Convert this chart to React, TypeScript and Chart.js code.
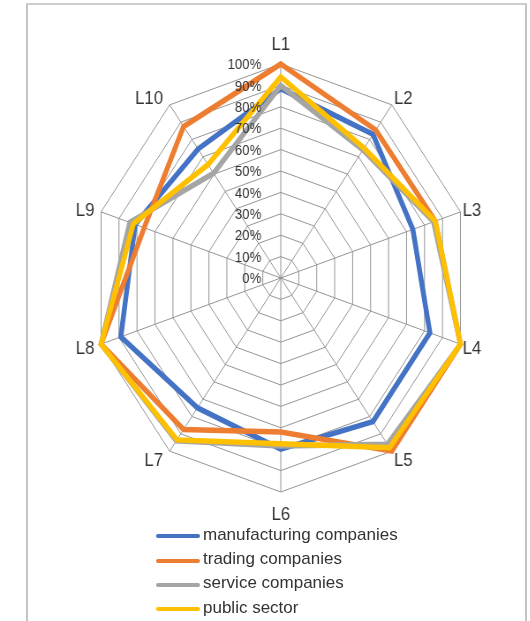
import React, { useEffect, useRef } from 'react';
import { Chart, registerables } from 'chart.js';

Chart.register(...registerables);

// ---- data ----
const categories = ['L1', 'L2', 'L3', 'L4', 'L5', 'L6', 'L7', 'L8', 'L9', 'L10'];
const seriesNames = ['manufacturing companies', 'trading companies', 'service companies', 'public sector'];
const manufacturing = [0.885, 0.83, 0.735, 0.83, 0.83, 0.8, 0.75, 0.89, 0.81, 0.745];
const trading = [1.0, 0.855, 0.86, 1.0, 1.0, 0.72, 0.875, 1.0, 0.76, 0.875];
const service = [0.9, 0.74, 0.85, 1.0, 0.96, 0.785, 0.94, 1.0, 0.84, 0.605];
const publicSector = [0.94, 0.75, 0.86, 1.0, 0.98, 0.775, 0.935, 1.0, 0.82, 0.655];
const tickLabels = ['0%', '10%', '20%', '30%', '40%', '50%', '60%', '70%', '80%', '90%', '100%'];
const seriesColors = ['#4472C4', '#ED7D31', '#A5A5A5', '#FFC000'];

const TEXT = '#333333';
const FONT = '"Liberation Sans", Arial, sans-serif';
const SCALE_X = 0.883;
const CANVAS_W = 500;
const CANVAS_H = 560;

const labelPlugin = {
  id: 'customLabels',
  afterDraw(chart: any) {
    const scale = chart.scales.r;
    const ctx = chart.ctx;
    ctx.save();
    // tick labels, right-aligned left of the vertical axis
    ctx.font = `15px ${FONT}`;
    ctx.fillStyle = TEXT;
    ctx.textAlign = 'right';
    ctx.textBaseline = 'middle';
    scale.ticks.forEach((t: any, i: number) => {
      const d = scale.getDistanceFromCenterForValue(t.value);
      ctx.fillText(tickLabels[i] ?? '', scale.xCenter - 22, scale.yCenter - d + 1);
    });
    // point labels
    const fs = 19;
    const capH = 0.716 * fs;
    ctx.font = `${fs}px ${FONT}`;
    ctx.textBaseline = 'alphabetic';
    categories.forEach((lab, i) => {
      const p = scale.getPointPosition(i, scale.drawingArea);
      const a = scale.getIndexAngle(i);
      const s = Math.sin(a);
      const c = Math.cos(a);
      if (Math.abs(s) < 0.01) {
        ctx.textAlign = 'center';
        if (c > 0) ctx.fillText(lab, p.x, p.y - 14);
        else ctx.fillText(lab, p.x, p.y + 14 + capH);
      } else {
        const cy = p.y - c * 9.5;
        if (s > 0) {
          ctx.textAlign = 'left';
          ctx.fillText(lab, p.x + 2.5, cy + capH / 2);
        } else {
          ctx.textAlign = 'right';
          ctx.fillText(lab, p.x - 7.5, cy + capH / 2);
        }
      }
    });
    ctx.restore();
  },
};

export default function App() {
  const canvasRef = useRef<HTMLCanvasElement | null>(null);

  useEffect(() => {
    const canvas = canvasRef.current;
    if (!canvas) return;
    const allSeries = [manufacturing, trading, service, publicSector];
    const chart = new Chart(canvas, {
      type: 'radar',
      data: {
        labels: categories,
        datasets: allSeries.map((d, i) => ({
          label: seriesNames[i],
          data: d,
          borderColor: seriesColors[i],
          backgroundColor: seriesColors[i],
          borderWidth: 5.5,
          fill: false,
          pointRadius: 0,
          pointHoverRadius: 0,
          tension: 0,
          borderJoinStyle: 'miter' as const,
          order: 3 - i,
        })),
      },
      options: {
        responsive: false,
        animation: false,
        layout: { padding: { top: 64, bottom: CANVAS_H - 64 - 428, left: 0, right: 0 } },
        plugins: { legend: { display: false }, tooltip: { enabled: false } },
        scales: {
          r: {
            min: 0,
            max: 1,
            beginAtZero: true,
            ticks: { display: false, stepSize: 0.1 },
            pointLabels: { display: false },
            grid: { color: '#939393', lineWidth: 1, circular: false },
            angleLines: { color: '#939393', lineWidth: 1 },
          },
        },
      },
      plugins: [labelPlugin],
    });
    return () => chart.destroy();
  }, []);

  const rowY = [536, 560.5, 584.5, 609];

  return (
    <div style={{ position: 'fixed', left: 0, top: 0, width: 530, height: 621, overflow: 'hidden', background: '#fff' }}>
      <div
        style={{
          position: 'absolute',
          left: 26,
          top: 3,
          width: 501,
          height: 700,
          boxSizing: 'border-box',
          borderLeft: '2px solid #c4c4c4',
          borderRight: '2px solid #c4c4c4',
          borderTop: '2px solid #cdcdcd',
        }}
      />
      <div style={{ position: 'absolute', left: 59.75, top: 0, transform: `scaleX(${SCALE_X})`, transformOrigin: '0 0' }}>
        <canvas ref={canvasRef} width={CANVAS_W} height={CANVAS_H} />
      </div>
      {seriesNames.map((name, i) => (
        <React.Fragment key={name}>
          <div
            style={{
              position: 'absolute',
              left: 156,
              top: rowY[i] - 2,
              width: 44,
              height: 4,
              borderRadius: 2,
              background: seriesColors[i],
            }}
          />
          <div
            style={{
              position: 'absolute',
              left: 203,
              top: rowY[i] - 11.5,
              font: `17px ${FONT}`,
              lineHeight: '20px',
              color: TEXT,
              whiteSpace: 'nowrap',
            }}
          >
            {name}
          </div>
        </React.Fragment>
      ))}
    </div>
  );
}
